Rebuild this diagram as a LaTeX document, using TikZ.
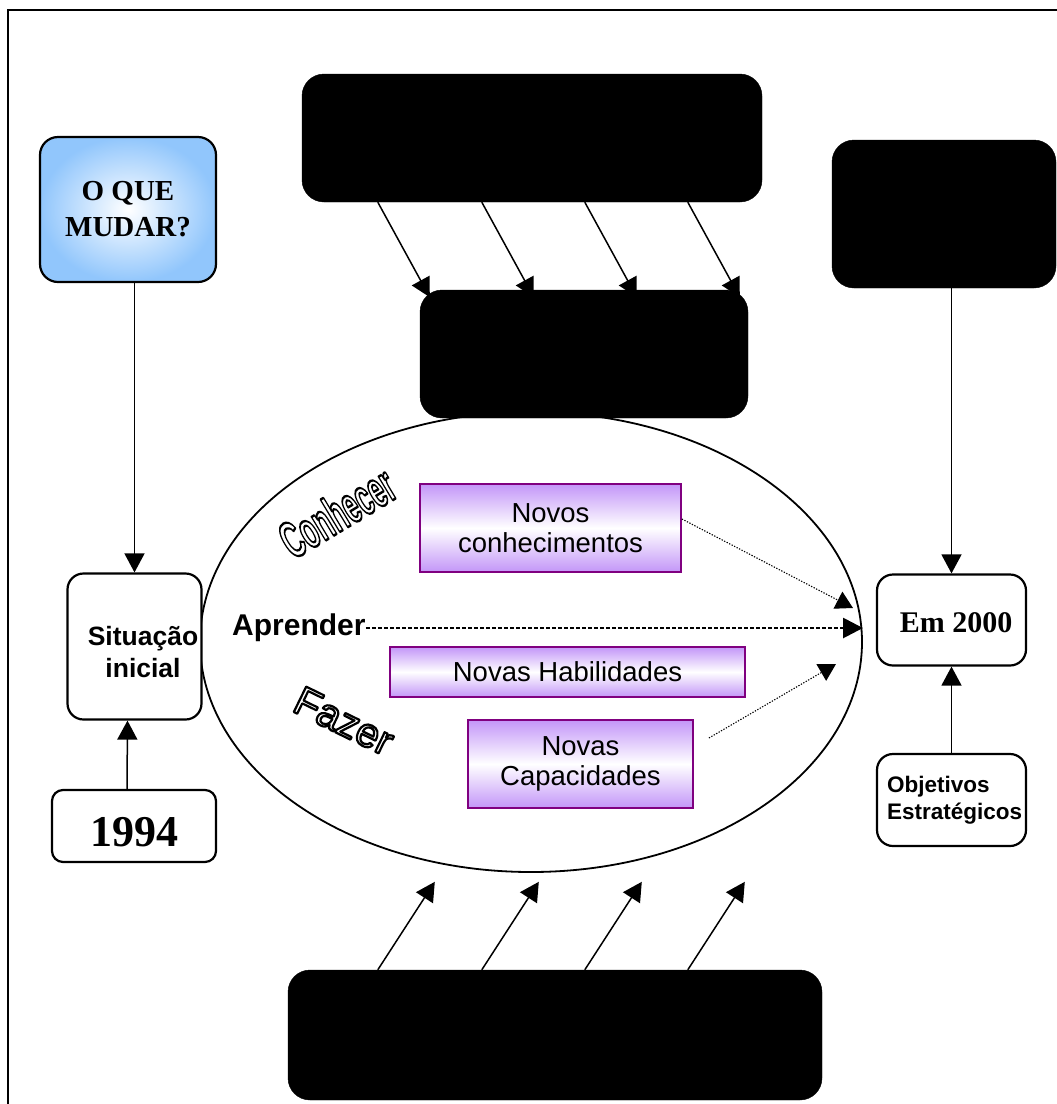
\documentclass[tikz,border=0pt]{standalone}
\usepackage{fontspec}
\setmainfont{Liberation Serif}
\setsansfont{Liberation Sans}
\usepackage{graphicx}
\usetikzlibrary{shapes.geometric,arrows.meta,calc}

\definecolor{skyedge}{RGB}{145,198,252}
\definecolor{lilac}{RGB}{195,150,248}
\definecolor{plum}{RGB}{128,0,128}

% hollow letters: stroke the glyph outlines instead of filling them
\newcommand{\hollowtext}[2]{%
  \special{pdf:literal direct q 1 Tr #1 w 1 j}#2\special{pdf:literal direct Q}}

\begin{document}
\begin{tikzpicture}[x=1pt,y=-1pt,
  blackbox/.style={fill=black,draw=black,rounded corners=22pt,inner sep=0pt},
  whitebox/.style={draw=black,line width=2.2pt,rounded corners=16pt,fill=white,inner sep=0pt},
  purplebox/.style={draw=plum,line width=1.8pt,top color=lilac,bottom color=lilac,
    middle color=white,inner sep=0pt,align=center,
    font=\sffamily\fontsize{27.5}{30}\selectfont},
  arr/.style={line width=1.5pt,-{Triangle[length=19pt,width=20pt]}},
  thindot/.style={line width=1.1pt,dash pattern=on 1.3pt off 1.5pt,
    -{Triangle[length=17pt,width=19pt]}},
  thickdot/.style={line width=2.8pt,dash pattern=on 4pt off 2pt,
    -{Triangle[length=20pt,width=20pt]}},
  outlined/.style={inner sep=0pt}
]
\useasboundingbox (0,0) rectangle (1057,1104);

% page frame
\draw[line width=1.6pt] (8,10) rectangle (1090,1140);

% central oval
\node[draw,ellipse,line width=1.8pt,minimum width=662pt,minimum height=460pt,inner sep=0pt]
  (oval) at (531,642) {};

% solid black panels
\node[blackbox,minimum width=460pt,minimum height=128pt] (topbox) at (532,138) {};
\node[blackbox,minimum width=224pt,minimum height=148pt] (rbox) at (944,214) {};
\node[blackbox,minimum width=534pt,minimum height=130pt] (botbox) at (555,1035) {};

% slanted arrows from the top panel
\foreach \i/\dx in {1/76,2/180,3/283,4/386}{
  \coordinate (ts\i) at ($(topbox.south west)+(\dx,0)$);
  \coordinate (te\i) at ($(ts\i)+(52,95)$);
  \draw[arr] (ts\i) -- (te\i);
}
\node[blackbox,minimum width=328pt,minimum height=128pt] (midbox) at (584,354) {};

% slanted arrows from the bottom panel
\foreach \i/\dx in {1/90,2/194,3/297,4/400}{
  \coordinate (bs\i) at ($(botbox.north west)+(\dx,0)$);
  \coordinate (be\i) at ($(bs\i)+(57,-88)$);
  \draw[arr] (bs\i) -- (be\i);
}

% left column
\node[whitebox,rounded corners=18pt,shading=radial,inner color=white,outer color=skyedge,
  minimum width=176pt,minimum height=145pt,align=center,
  font=\bfseries\fontsize{29}{36}\selectfont] (mudar) at (128,209.5) {O QUE\\MUDAR?};
\node[whitebox,minimum width=134pt,minimum height=146pt] (sit) at (134.5,646.5) {};
\node[font=\sffamily\bfseries\fontsize{26.5}{32}\selectfont,align=center,inner sep=0pt]
  (sittxt) at (143,652) {Situação\\inicial};
\node[whitebox,rounded corners=11pt,minimum width=164pt,minimum height=72pt] (y94) at (134,826) {};
\node[font=\bfseries\fontsize{44}{44}\selectfont,inner sep=0pt] (y94txt) at (134,832) {1994};

% right column
\node[whitebox,minimum width=149pt,minimum height=91pt] (em) at (951.5,620) {};
\node[font=\bfseries\fontsize{30}{30}\selectfont,inner sep=0pt] (emtxt) at (956,623) {Em 2000};
\node[whitebox,minimum width=149pt,minimum height=92pt] (obj) at (951.5,800) {};
\node[font=\sffamily\bfseries\fontsize{22.5}{27}\selectfont,align=left,anchor=west,inner sep=0pt]
  (objtxt) at (887,800) {Objetivos\\Estratégicos};

% vertical connectors
\draw[arr] (mudar.south -| sit.north) -- (sit.north);
\draw[arr] ([xshift=-7pt]y94.north) -- ([xshift=-7pt]sit.south);
\draw[arr] (rbox.south -| em.north) -- (em.north);
\draw[arr] (obj.north) -- (em.south);

% inner boxes
\node[purplebox,minimum width=261pt,minimum height=88pt] (nc) at (550.5,528) {Novos\\conhecimentos};
\node[purplebox,minimum width=355pt,minimum height=50pt] (nh) at (567.5,672) {Novas Habilidades};
\node[purplebox,minimum width=225pt,minimum height=88pt] (ncap) at (580.5,764) {Novas\\Capacidades};

% hollow verbs
\node[outlined,rotate=31] (conh) at (337,512)
  {\scalebox{0.52}[1]{\sffamily\bfseries\fontsize{52}{52}\selectfont\hollowtext{2.4}{Conhecer}}};
\node[outlined,rotate=-26] (faz) at (344,721)
  {\sffamily\fontsize{41}{41}\selectfont\hollowtext{2.2}{Fazer}};

% learning arrows
\node[font=\sffamily\bfseries\fontsize{30}{30}\selectfont,anchor=west,inner sep=0pt] (apr) at (232,628) {Aprender};
\coordinate (aprtip) at (863,628);
\draw[thickdot] (apr.east) -- (aprtip);
\coordinate (ncstart) at ($(nc.east)+(0,-9)$);
\coordinate (nctip) at (853,608);
\draw[thindot] (ncstart) -- (nctip);
\coordinate (capstart) at ($(ncap.east)+(15,-26)$);
\coordinate (captip) at (836,664);
\draw[thindot] (capstart) -- (captip);
\end{tikzpicture}
\end{document}
